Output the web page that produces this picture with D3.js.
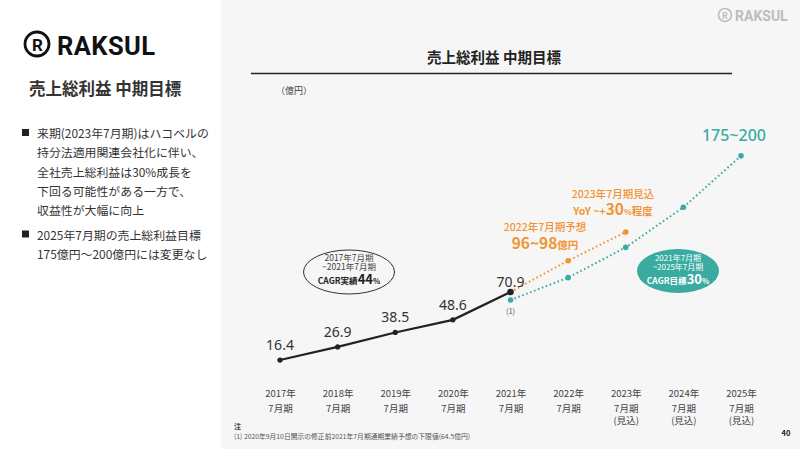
<!DOCTYPE html>
<html><head><meta charset="utf-8">
<script src="https://cdn.jsdelivr.net/npm/d3@7"></script>
<style>
html,body{margin:0;padding:0;background:#fff;}
svg{display:block;font-family:"Noto Sans CJK JP","Noto Sans",sans-serif;}
</style></head>
<body>
<svg id="c" width="800" height="449"></svg>
<script>
// ---- data ----
const categories = ["2017","2018","2019","2020","2021","2022","2023","2024","2025"];
const tickYear = ["2017年","2018年","2019年","2020年","2021年","2022年","2023年","2024年","2025年"];
const tickSub = ["7月期","7月期","7月期","7月期","7月期","7月期","7月期","7月期","7月期"];
const tickNote = ["","","","","","","(見込)","(見込)","(見込)"];
const actualCats = ["2017","2018","2019","2020","2021"];
const actualValues = [16.4, 26.9, 38.5, 48.6, 70.9];
const forecastCats = ["2021","2022","2023"];
const forecastValues = [70.9, 96, 119];
const targetCats = ["2021","2022","2023","2024","2025"];
const targetValues = [64.5, 82.4, 106.7, 138.8, 180];
const bullets = [
  ["来期(2023年7月期)はハコベルの","持分法適用関連会社化に伴い、","全社売上総利益は30%成長を","下回る可能性がある一方で、","収益性が大幅に向上"],
  ["2025年7月期の売上総利益目標","175億円～200億円には変更なし"]
];

const ORANGE = "#f29433", TEAL = "#3aaba1", DARK = "#222";
const svg = d3.select("#c");

// panels
svg.append("rect").attr("x",0).attr("y",0).attr("width",800).attr("height",449).attr("fill","#fff");
svg.append("rect").attr("x",221).attr("y",0).attr("width",579).attr("height",449).attr("fill","#f6f6f6");

// left logo
const lg = svg.append("g");
lg.append("circle").attr("cx",37).attr("cy",44).attr("r",12).attr("fill","none").attr("stroke","#111").attr("stroke-width",2.8);
lg.append("text").attr("x",37.5).attr("y",50.5).attr("text-anchor","middle").attr("font-size",17).attr("font-weight",700).attr("fill","#111").attr("font-family","Roboto, sans-serif").text("R");
lg.append("text").attr("x",57).attr("y",55).attr("font-size",25.5).attr("font-weight",700).attr("fill","#111").attr("font-family","Roboto, Inter, sans-serif").attr("letter-spacing",0.4).text("RAKSUL");
svg.append("text").attr("x",29).attr("y",95).attr("font-size",16.5).attr("font-weight",700).attr("fill","#333").text("売上総利益 中期目標");

// bullets
let by = 138;
bullets.forEach((lines,bi)=>{
  svg.append("rect").attr("x",22).attr("y",by-9).attr("width",7).attr("height",7).attr("fill","#222");
  lines.forEach((t,i)=>{
    svg.append("text").attr("x",37).attr("y",by+i*19.3).attr("font-size",11.9).attr("fill","#333").text(t);
  });
  by += lines.length*19.3 + 5;
});

// top right logo
svg.append("circle").attr("cx",725).attr("cy",15).attr("r",6.5).attr("fill","none").attr("stroke","#bdbdbd").attr("stroke-width",1.6);
svg.append("text").attr("x",725).attr("y",18.5).attr("text-anchor","middle").attr("font-size",9).attr("font-weight",700).attr("fill","#bdbdbd").attr("font-family","Roboto, sans-serif").text("R");
svg.append("text").attr("x",735).attr("y",20.5).attr("font-size",14).attr("font-weight",700).attr("fill","#bdbdbd").attr("font-family","Roboto, sans-serif").text("RAKSUL");

// chart title
svg.append("text").attr("x",494).attr("y",63).attr("text-anchor","middle").attr("font-size",14.5).attr("font-weight",700).attr("fill","#222").text("売上総利益 中期目標");
svg.append("line").attr("x1",251).attr("x2",732).attr("y1",73.5).attr("y2",73.5).attr("stroke","#222").attr("stroke-width",1.5);
svg.append("text").attr("x",276).attr("y",94).attr("font-size",9).attr("fill","#444").text("（億円）");

// scales
const x = d3.scalePoint().domain(categories).range([280, 741]);
const y = d3.scaleLinear().domain([0, 200]).range([380.5, 130.9]);

// axis
const ax = svg.append("g").attr("transform","translate(0,385)")
  .call(d3.axisBottom(x).tickSize(0).tickFormat(""));
ax.select(".domain").remove();
ax.selectAll(".tick").each(function(d,i){
  const t = d3.select(this).append("text").attr("fill","#444").attr("font-size",9.5).attr("text-anchor","middle")
    .attr("font-family","'Noto Sans CJK JP',sans-serif");
  t.append("tspan").attr("x",0).attr("y",12).text(tickYear[i]);
  t.append("tspan").attr("x",0).attr("y",27).text(tickSub[i]);
  if (tickNote[i]) t.append("tspan").attr("x",0).attr("y",39).text(tickNote[i]);
});

const line = d3.line().x(d=>x(d[0])).y(d=>y(d[1]));

// target (teal dotted)
const tData = targetCats.map((c,i)=>[c,targetValues[i]]);
svg.append("path").datum(tData).attr("d",line).attr("fill","none").attr("stroke",TEAL).attr("stroke-width",2).attr("stroke-dasharray","1.6,2.6").attr("stroke-linecap","butt");
svg.selectAll(".tdot").data(tData).join("circle").attr("cx",d=>x(d[0])).attr("cy",d=>y(d[1])).attr("r",2.8).attr("fill",TEAL);

// forecast (orange dotted)
const fData = forecastCats.map((c,i)=>[c,forecastValues[i]]);
svg.append("path").datum(fData).attr("d",line).attr("fill","none").attr("stroke",ORANGE).attr("stroke-width",2).attr("stroke-dasharray","1.6,2.6");
svg.selectAll(".fdot").data(fData.slice(1)).join("circle").attr("cx",d=>x(d[0])).attr("cy",d=>y(d[1])).attr("r",2.8).attr("fill",ORANGE);

// actual
const aData = actualCats.map((c,i)=>[c,actualValues[i]]);
svg.append("path").datum(aData).attr("d",line).attr("fill","none").attr("stroke",DARK).attr("stroke-width",2.2);
svg.selectAll(".adot").data(aData).join("circle").attr("cx",d=>x(d[0])).attr("cy",d=>y(d[1])).attr("r",(d,i)=>i===aData.length-1?3.3:2.6).attr("fill",DARK);
svg.selectAll(".alab").data(aData).join("text")
  .attr("x",d=>x(d[0])).attr("y",(d,i)=>y(d[1]) - (i===aData.length-1 ? 5 : 10))
  .attr("text-anchor","middle").attr("font-size",14).attr("fill","#333").attr("font-family","'Noto Sans',sans-serif")
  .text(d=>d[1].toFixed(1));

// (1)
svg.append("text").attr("x",x("2021")).attr("y",y(targetValues[0])+14).attr("text-anchor","middle").attr("font-size",7.5).attr("fill","#555").text("(1)");

// orange annotations
svg.append("text").attr("x",545).attr("y",231).attr("text-anchor","middle").attr("font-size",10.5).attr("fill",ORANGE).attr("font-weight",500).text("2022年7月期予想");
const o2 = svg.append("text").attr("x",545).attr("y",249).attr("text-anchor","middle").attr("fill",ORANGE).attr("font-weight",700);
o2.append("tspan").attr("font-size",15.5).text("96~98");
o2.append("tspan").attr("font-size",10.5).text("億円");
svg.append("text").attr("x",613).attr("y",198).attr("text-anchor","middle").attr("font-size",10.5).attr("fill",ORANGE).attr("font-weight",500).text("2023年7月期見込");
const o4 = svg.append("text").attr("x",613).attr("y",215).attr("text-anchor","middle").attr("fill",ORANGE).attr("font-weight",700);
o4.append("tspan").attr("font-size",10.5).text("YoY ~+");
o4.append("tspan").attr("font-size",15.5).text("30");
o4.append("tspan").attr("font-size",8).text("%");
o4.append("tspan").attr("font-size",10.5).text("程度");

// 175~200
svg.append("text").attr("x",734).attr("y",141).attr("text-anchor","middle").attr("font-size",16).attr("font-weight",500).attr("fill",TEAL).attr("font-family","'Noto Sans',sans-serif").text("175~200");

// teal ellipse
svg.append("ellipse").attr("cx",678).attr("cy",271).attr("rx",41).attr("ry",22).attr("fill",TEAL);
svg.append("text").attr("x",678).attr("y",260.5).attr("text-anchor","middle").attr("font-size",8).attr("fill","#fff").text("2021年7月期");
svg.append("text").attr("x",678).attr("y",270).attr("text-anchor","middle").attr("font-size",8).attr("fill","#fff").text("~2025年7月期");
const te = svg.append("text").attr("x",678).attr("y",284).attr("text-anchor","middle").attr("fill","#fff").attr("font-weight",700);
te.append("tspan").attr("font-size",8.5).text("CAGR目標");
te.append("tspan").attr("font-size",13).text("30");
te.append("tspan").attr("font-size",7.5).text("%");

// black ellipse
svg.append("ellipse").attr("cx",349).attr("cy",272).attr("rx",45.5).attr("ry",22).attr("fill","none").attr("stroke","#333").attr("stroke-width",1);
svg.append("text").attr("x",349).attr("y",260.5).attr("text-anchor","middle").attr("font-size",8.5).attr("fill","#444").text("2017年7月期");
svg.append("text").attr("x",349).attr("y",270).attr("text-anchor","middle").attr("font-size",8.5).attr("fill","#444").text("~2021年7月期");
const be = svg.append("text").attr("x",349).attr("y",284).attr("text-anchor","middle").attr("fill","#222").attr("font-weight",700);
be.append("tspan").attr("font-size",8.5).text("CAGR実績");
be.append("tspan").attr("font-size",13).text("44");
be.append("tspan").attr("font-size",7.5).text("%");

// footnote
svg.append("text").attr("x",234).attr("y",429).attr("font-size",7).attr("font-weight",700).attr("fill","#444").text("注");
svg.append("text").attr("x",234).attr("y",438.5).attr("font-size",6.8).attr("fill","#555").text("(1) 2020年9月10日開示の修正前2021年7月期通期業績予想の下限値(64.5億円)");
svg.append("text").attr("x",786).attr("y",436).attr("text-anchor","middle").attr("font-size",7.5).attr("font-weight",700).attr("fill","#222").text("40");
</script>
</body></html>
